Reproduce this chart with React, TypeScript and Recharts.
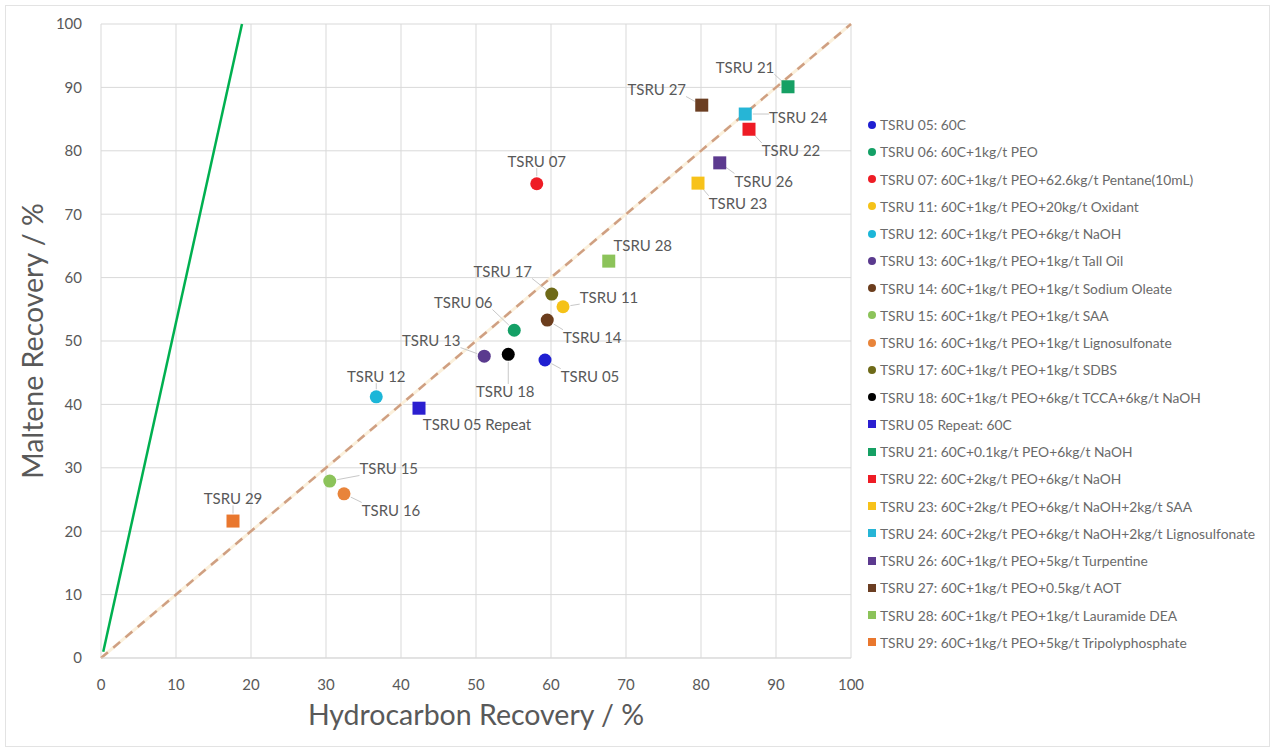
import React from 'react';
import { ScatterChart, Scatter, XAxis, YAxis, CartesianGrid, ReferenceLine, Label } from 'recharts';

const names = ['TSRU 05', 'TSRU 06', 'TSRU 07', 'TSRU 11', 'TSRU 12', 'TSRU 13', 'TSRU 14', 'TSRU 15', 'TSRU 16', 'TSRU 17', 'TSRU 18', 'TSRU 05 Repeat', 'TSRU 21', 'TSRU 22', 'TSRU 23', 'TSRU 24', 'TSRU 26', 'TSRU 27', 'TSRU 28', 'TSRU 29'];
const descriptions = [
  '60C',
  '60C+1kg/t PEO',
  '60C+1kg/t PEO+62.6kg/t Pentane(10mL)',
  '60C+1kg/t PEO+20kg/t Oxidant',
  '60C+1kg/t PEO+6kg/t NaOH',
  '60C+1kg/t PEO+1kg/t Tall Oil',
  '60C+1kg/t PEO+1kg/t Sodium Oleate',
  '60C+1kg/t PEO+1kg/t SAA',
  '60C+1kg/t PEO+1kg/t Lignosulfonate',
  '60C+1kg/t PEO+1kg/t SDBS',
  '60C+1kg/t PEO+6kg/t TCCA+6kg/t NaOH',
  '60C',
  '60C+0.1kg/t PEO+6kg/t NaOH',
  '60C+2kg/t PEO+6kg/t NaOH',
  '60C+2kg/t PEO+6kg/t NaOH+2kg/t SAA',
  '60C+2kg/t PEO+6kg/t NaOH+2kg/t Lignosulfonate',
  '60C+1kg/t PEO+5kg/t Turpentine',
  '60C+1kg/t PEO+0.5kg/t AOT',
  '60C+1kg/t PEO+1kg/t Lauramide DEA',
  '60C+1kg/t PEO+5kg/t Tripolyphosphate',
];
const hydrocarbon = [59.2, 55.1, 58.1, 61.6, 36.7, 51.1, 59.5, 30.5, 32.4, 60.1, 54.3, 42.4, 91.6, 86.4, 79.6, 85.9, 82.5, 80.1, 67.7, 17.6];
const maltene = [47.0, 51.7, 74.8, 55.4, 41.2, 47.6, 53.3, 27.9, 25.9, 57.4, 47.9, 39.4, 90.1, 83.4, 74.9, 85.8, 78.1, 87.2, 62.6, 21.6];

const axisTicks = [0, 10, 20, 30, 40, 50, 60, 70, 80, 90, 100];
const diagonal = [{ x: 0, y: 0 }, { x: 100, y: 100 }];
const greenLine = [{ x: 0.3, y: 1 }, { x: 18.8, y: 100 }];

// styling
const markerKinds = ['circle', 'circle', 'circle', 'circle', 'circle', 'circle', 'circle', 'circle', 'circle', 'circle', 'circle', 'square', 'square', 'square', 'square', 'square', 'square', 'square', 'square', 'square'];
const colors = ['#1f1fd1', '#14a066', '#ee1c25', '#f5c218', '#1cb6d8', '#5a3a8e', '#6b3d1d', '#8cc35a', '#e8843a', '#6e6a18', '#000000', '#2b1fd0', '#16a064', '#ee1c25', '#f7c21a', '#26b5d6', '#5c3a8f', '#6b3e22', '#8cc35a', '#e9772e'];
const labelOffsets: [number, number][] = [[45, 16], [-51, -28], [0, -23], [46, -10], [0, -21], [-53, -16], [45, 17], [59, -13], [47, 16], [-49, -23], [-3, 37], [58, 16], [-43, -20], [42, 21], [40, 20], [53, 3], [44, 18], [-45, -16], [34, -16], [0, -23]];

const FONT = 'Lato, "Liberation Sans", Arial, sans-serif';
const GRAY = '#595959';

const series = names.map((n, i) => ({ name: n, data: [{ x: hydrocarbon[i], y: maltene[i] }] }));

const makeShape = (i: number) => (props: any) => {
  const { cx, cy } = props;
  if (cx == null || cy == null) return <g />;
  const r = 6.5;
  const [dx, dy] = labelOffsets[i];
  const lx = cx + dx;
  const ly = cy + dy;
  const fs = 15;
  const w = names[i].length * fs * 0.52;
  const h = fs * 0.85;
  const px = Math.max(lx - w / 2 - 2, Math.min(cx, lx + w / 2 + 2));
  const py = Math.max(ly - h / 2 - 1, Math.min(cy, ly + h / 2 + 1));
  const vx = px - cx;
  const vy = py - cy;
  const len = Math.sqrt(vx * vx + vy * vy);
  const showLeader = len > r + 4;
  const sx = cx + (vx / (len || 1)) * (r + 1);
  const sy = cy + (vy / (len || 1)) * (r + 1);
  return (
    <g>
      {showLeader && <line x1={sx} y1={sy} x2={px} y2={py} stroke="#c8c8c8" strokeWidth={1} />}
      {markerKinds[i] === 'circle' ? (
        <circle cx={cx} cy={cy} r={r} fill={colors[i]} />
      ) : (
        <rect x={cx - r} y={cy - r} width={2 * r} height={2 * r} fill={colors[i]} />
      )}
      <text x={lx} y={ly} textAnchor="middle" dominantBaseline="central" fontSize={fs} fontFamily={FONT} fill={GRAY}>
        {names[i]}
      </text>
    </g>
  );
};

function LegendBox() {
  return (
    <div style={{ position: 'absolute', left: 868, top: 111, fontFamily: FONT, fontSize: 13.8, color: '#6a6a6a' }}>
      {names.map((n, i) => (
        <div key={n} style={{ height: 27.26, display: 'flex', alignItems: 'center', whiteSpace: 'nowrap' }}>
          <span
            style={{
              display: 'inline-block',
              width: 8,
              height: 8,
              background: colors[i],
              borderRadius: markerKinds[i] === 'circle' ? '50%' : 0,
              marginRight: 4,
            }}
          />
          <span>{`${n}: ${descriptions[i]}`}</span>
        </div>
      ))}
    </div>
  );
}

export default function App() {
  return (
    <div style={{ position: 'absolute', left: 0, top: 0, width: 1275, height: 751, background: '#fff' }}>
      <div style={{ position: 'absolute', left: 5, top: 5, width: 1263, height: 740, border: '1px solid #e3e3e3' }} />
      <div style={{ position: 'absolute', left: 0, top: 0 }}>
        <ScatterChart width={1275} height={751} margin={{ top: 24, right: 424, bottom: 63, left: 41 }}>
          <CartesianGrid stroke="#d9d9d9" strokeWidth={1} />
          <XAxis
            type="number"
            dataKey="x"
            domain={[0, 100]}
            ticks={axisTicks}
            axisLine={{ stroke: '#d9d9d9' }}
            tickLine={false}
            tickSize={0}
            tickMargin={21}
            height={30}
            tick={{ fontSize: 15, fontFamily: FONT, fill: GRAY }}
            interval={0}
          >
            <Label value="Hydrocarbon Recovery / %" position="bottom" offset={17} style={{ fontSize: 28.5, fontFamily: FONT, fill: GRAY }} />
          </XAxis>
          <YAxis
            type="number"
            dataKey="y"
            domain={[0, 100]}
            ticks={axisTicks}
            axisLine={false}
            tickLine={false}
            tickSize={0}
            tickMargin={19}
            width={60}
            tick={{ fontSize: 15, fontFamily: FONT, fill: GRAY }}
            interval={0}
          >
            <Label value="Maltene Recovery / %" angle={-90} position="left" offset={8} style={{ fontSize: 28.5, fontFamily: FONT, fill: GRAY, textAnchor: 'middle' }} />
          </YAxis>
          <ReferenceLine segment={diagonal} stroke="#fbf0dc" strokeWidth={3} />
          <ReferenceLine segment={diagonal} stroke="#cf9f82" strokeWidth={2.5} strokeDasharray="9 7" />
          <ReferenceLine segment={greenLine} stroke="#00b050" strokeWidth={2.5} />
          {series.map((s, i) => (
            <Scatter key={s.name} name={s.name} data={s.data} fill={colors[i]} shape={makeShape(i)} isAnimationActive={false} />
          ))}
        </ScatterChart>
      </div>
      <LegendBox />
    </div>
  );
}
